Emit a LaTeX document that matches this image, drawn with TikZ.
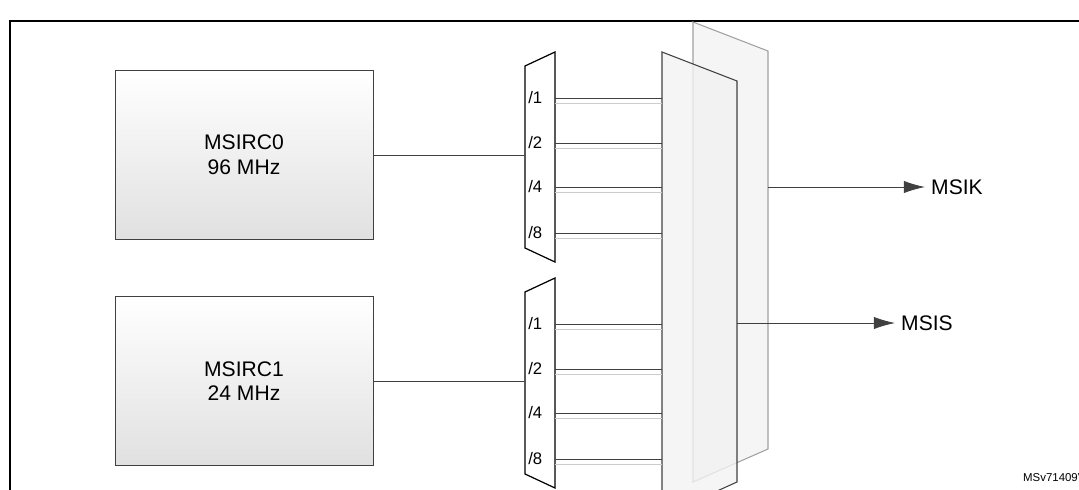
\documentclass[tikz,border=0pt]{standalone}
\usepackage{fontspec}
\setmainfont{Liberation Sans}
\usetikzlibrary{arrows.meta,positioning}
\definecolor{msigray}{RGB}{64,64,64}
\definecolor{msilight}{RGB}{160,160,160}

\begin{document}
\begin{tikzpicture}[x=0.02cm,y=-0.02cm,
    oscbox/.style={draw=msigray,top color=white,bottom color=black!12,minimum width=258*0.02cm,minimum height=169*0.02cm,font=\fontsize{12}{14}\selectfont,align=center},
    divlbl/.style={font=\fontsize{9.5}{11}\selectfont,anchor=west,inner sep=0pt},
    wire/.style={draw=msigray,line width=0.5pt},
    outarrow/.style={wire,-{Latex[length=12pt,width=7pt]}}]
  \useasboundingbox (0,0) rectangle (1079,490);
  % frame
  \draw[line width=1.2pt] (1079,21) -- (10,21) -- (10,490);
  % back panel
  \fill[black!4] (693,22) -- (768,51) -- (768,449) -- (693,482) -- cycle;
  \draw[msilight,line width=0.6pt] (693,22) -- (768,51) -- (768,449) -- (693,482) -- cycle;
  % front panel
  \fill[black!5,opacity=0.8] (662,52) -- (737,81) -- (737,482) -- (662,516) -- cycle;
  \draw[msigray,line width=0.6pt] (662,52) -- (737,81) -- (737,482) -- (662,516) -- cycle;
  % oscillators
  \node[oscbox] (rc0) at (244,155) {MSIRC0\\96 MHz};
  \node[oscbox] (rc1) at (244,381) {MSIRC1\\24 MHz};
  % dividers
  \foreach \name/\dy in {div0/0,div1/226} {
    \draw[black,line width=0.7pt,fill=white] (525,66+\dy) -- (555,52+\dy) -- (555,262+\dy) -- (525,248+\dy) -- cycle;
    \coordinate (\name-in) at (525,155+\dy);
    \foreach \d/\y in {1/98,2/143,4/187,8/233} {
      \node[divlbl] (\name-l\d) at (528,\y+\dy) {/\d};
      \coordinate (\name-o\d) at (555,\y+\dy);
      \coordinate (\name-e\d) at (662,\y+\dy);
      \draw[wire] (\name-o\d) -- (\name-e\d);
      \draw[black!20,line width=0.8pt] ([yshift=-3pt]\name-o\d) -- ([yshift=-3pt]\name-e\d);
    }
  }
  \draw[wire] (rc0.east) -- (div0-in);
  \draw[wire] (rc1.east) -- (div1-in);
  % outputs
  \coordinate (kout) at (768,187);
  \coordinate (sout) at (737,323);
  \node[font=\fontsize{12}{14}\selectfont,anchor=west] (msik) at (925,187) {MSIK};
  \node[font=\fontsize{12}{14}\selectfont,anchor=west] (msis) at (895,323) {MSIS};
  \draw[outarrow] (kout) -- (msik.west);
  \draw[outarrow] (sout) -- (msis.west);
  \node[font=\fontsize{6.5}{8}\selectfont,anchor=west] (ref) at (1017,478) {MSv71409V1};
\end{tikzpicture}
\end{document}
